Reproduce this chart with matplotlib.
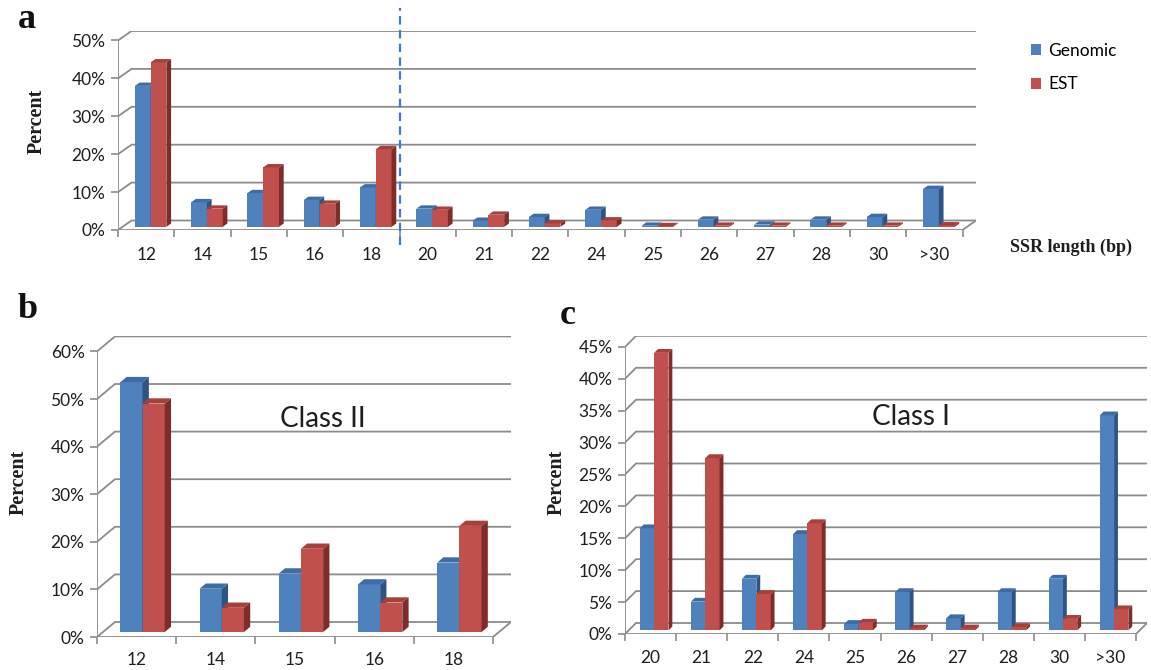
import numpy as np
import matplotlib
matplotlib.use("Agg")
import matplotlib.pyplot as plt
from matplotlib.patches import Polygon

# ---- data: percent of SSRs by repeat length ----
len_all = ["12", "14", "15", "16", "18", "20", "21", "22", "24", "25",
           "26", "27", "28", "30", ">30"]
genomic_all = [37.2, 6.5, 8.9, 7.1, 10.4, 4.8, 1.6, 2.6, 4.5, 0.3,
               1.9, 0.6, 1.9, 2.6, 10.0]
est_all = [43.4, 4.8, 15.7, 6.1, 20.5, 4.5, 3.2, 0.9, 1.7, 0.2,
           0.3, 0.3, 0.3, 0.3, 0.4]

len_class2 = ["12", "14", "15", "16", "18"]
genomic_class2 = [52.5, 9.1, 12.3, 10.0, 14.6]
est_class2 = [48.0, 5.1, 17.5, 6.2, 22.3]

len_class1 = ["20", "21", "22", "24", "25", "26", "27", "28", "30", ">30"]
genomic_class1 = [16.0, 4.5, 8.1, 15.1, 1.0, 6.0, 1.9, 6.0, 8.1, 33.7]
est_class1 = [43.5, 27.0, 5.7, 16.8, 1.2, 0.3, 0.3, 0.5, 1.8, 3.3]

series_names = ["Genomic", "EST"]

# ---- styling ----
W, H = 1151, 670
SANS = ["Lato", "DejaVu Sans"]
SERIF = ["Liberation Serif", "DejaVu Serif"]
GRID = "#8c8c8c"
TXT = "#1e1e1e"
# (front, side, top) shades of each 3-D column
SHADES = [("#4F81BD", "#2F5483", "#3E6CA5"),
          ("#C0504D", "#7E2D2B", "#A5403D")]
BAR_W = 0.28        # width of one column, in category units
Z0, Z1 = 0.33, 0.68  # depth span of the columns inside the floor
TICK_FS = 12.5

plt.rcParams["font.family"] = SANS

fig = plt.figure(figsize=(W / 100, H / 100), dpi=100)


def make_axes(left, cat, n, zero, per, ymax, dx, dy):
    """Axes whose data box holds the front plane plus the oblique depth."""
    right = left + n * cat + dx
    top = zero - ymax * per - dy
    ax = fig.add_axes([left / W, (H - zero) / H, (right - left) / W, (zero - top) / H])
    DX, DY = dx / cat, dy / per
    ax.set_xlim(0, n + DX)
    ax.set_ylim(0, ymax + DY)
    return ax, DX, DY


def draw_panel(ax, DX, DY, labels, genomic, est, ymax, step, xpad):
    n = len(labels)
    for sp in ax.spines.values():
        sp.set_visible(False)
    levels = np.arange(0, ymax + step / 2, step)
    # back-wall gridlines with their side-wall diagonals
    for v in levels:
        ax.plot([0, DX, n + DX], [v, v + DY, v + DY], color=GRID, lw=1.3,
                zorder=1, solid_joinstyle="miter")
    ax.plot([0, 0], [0, ymax], color=GRID, lw=1.3, zorder=1)
    ax.plot([0, n, n + DX], [0, 0, DY], color=GRID, lw=1.3, zorder=1)

    ddx, ddy = (Z1 - Z0) * DX, (Z1 - Z0) * DY
    for k, (name, vals) in enumerate(zip(series_names, [genomic, est])):
        front, side, topc = SHADES[k]
        x = np.arange(n) + 0.5 - BAR_W + k * BAR_W + Z0 * DX
        bars = ax.bar(x, vals, width=BAR_W, bottom=Z0 * DY, align="edge",
                      color=front, lw=0, label=name, zorder=3 + k)
        for r in bars:
            xl, yb = r.get_x(), r.get_y()
            xr, yt = xl + r.get_width(), yb + r.get_height()
            ax.add_patch(Polygon([(xr, yb), (xr + ddx, yb + ddy),
                                  (xr + ddx, yt + ddy), (xr, yt)],
                                 closed=True, fc=side, ec="none", zorder=3 + k))
            ax.add_patch(Polygon([(xl, yt), (xr, yt), (xr + ddx, yt + ddy),
                                  (xl + ddx, yt + ddy)],
                                 closed=True, fc=topc, ec="none", zorder=3 + k))

    ax.set_yticks(levels)
    ax.set_yticklabels([f"{v:.0f}%" for v in levels])
    ax.set_xticks(np.arange(n + 1))
    ax.set_xticklabels([])
    ax.set_xticks(np.arange(n) + 0.5, minor=True)
    ax.set_xticklabels(labels, minor=True)
    ax.tick_params(axis="y", length=5, width=1.2, color=GRID,
                   labelsize=TICK_FS, labelcolor=TXT, pad=4)
    ax.tick_params(axis="x", which="major", length=5, width=1.2, color=GRID)
    ax.tick_params(axis="x", which="minor", length=0, labelsize=TICK_FS,
                   labelcolor=TXT, pad=xpad)
    return ax


# ---- panel a: all SSRs ----
ax_a, DXa, DYa = make_axes(118, 56.3, len(len_all), 230, 3.79, 50, 13.5, 9.5)
draw_panel(ax_a, DXa, DYa, len_all, genomic_all, est_all, 50, 10, 12)
# boundary between Class II (12-18 bp) and Class I (>=20 bp)
ax_a.vlines(5, -4.0, 58.5, colors="#3F7BC6", linestyles=(0, (3.8, 2.4)),
            lw=1.6, clip_on=False, zorder=6)
ax_a.legend(loc="upper left", bbox_to_anchor=(1024 / W, 1 - 36 / H),
            bbox_transform=fig.transFigure, frameon=False, fontsize=12.5,
            handlelength=0.6, handleheight=0.6, handletextpad=0.4,
            labelspacing=1.0, borderaxespad=0)
fig.text(1071 / W, 1 - 247 / H, "SSR length (bp)", family=SERIF,
         weight="bold", size=13, ha="center", va="center", color=TXT)

# ---- panel b: Class II ----
ax_b, DXb, DYb = make_axes(97, 79.2, len(len_class2), 637, 4.76, 60, 18, 15)
draw_panel(ax_b, DXb, DYb, len_class2, genomic_class2, est_class2, 60, 10, 10.5)
fig.text(323 / W, 1 - 419 / H, "Class II", size=20, ha="center",
         va="center", color=TXT)

# ---- panel c: Class I ----
ax_c, DXc, DYc = make_axes(625, 51.1, len(len_class1), 634, 6.38, 45, 11, 11)
draw_panel(ax_c, DXc, DYc, len_class1, genomic_class1, est_class1, 45, 5, 11.5)
fig.text(911 / W, 1 - 417 / H, "Class I", size=20, ha="center",
         va="center", color=TXT)

# ---- panel letters and value-axis titles ----
for letter, (px, py) in zip("abc", [(18, 20), (18, 310), (560, 316)]):
    fig.text(px / W, 1 - py / H, letter, family=SERIF, weight="bold",
             size=26, ha="left", va="center", color="#111111")
for (px, py) in [(37, 121), (19, 482), (557, 482)]:
    fig.text(px / W, 1 - py / H, "Percent", family=SERIF, weight="bold",
             size=14.5, rotation=90, ha="center", va="center", color=TXT)

fig.savefig("out.png", dpi=100, facecolor="white")
